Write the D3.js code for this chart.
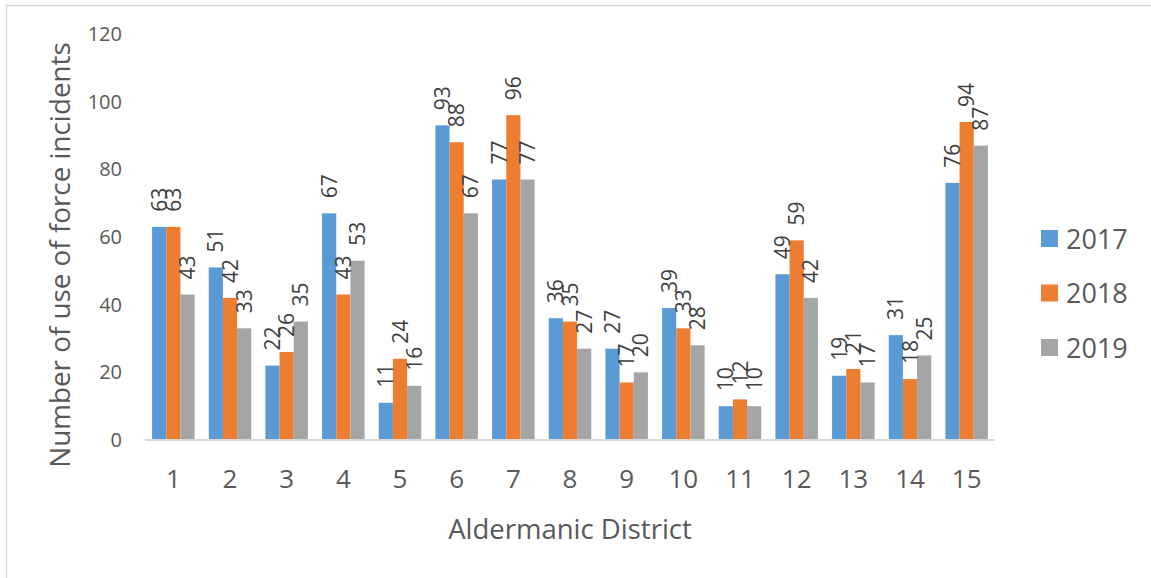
<!DOCTYPE html>
<html>
<head>
<meta charset="utf-8">
<script src="https://cdn.jsdelivr.net/npm/d3@7"></script>
<style>
  html, body { margin: 0; padding: 0; background: #fff; }
  svg { display: block; font-family: "Open Sans", sans-serif; }
</style>
</head>
<body>
<svg id="chart" width="1151" height="578"></svg>
<script>
// Use of force incidents per aldermanic district, by year
const districts = ["1","2","3","4","5","6","7","8","9","10","11","12","13","14","15"];
const years = ["2017", "2018", "2019"];
const values2017 = [63, 51, 22, 67, 11, 93, 77, 36, 27, 39, 10, 49, 19, 31, 76];
const values2018 = [63, 42, 26, 43, 24, 88, 96, 35, 17, 33, 12, 59, 21, 18, 94];
const values2019 = [43, 33, 35, 53, 16, 67, 77, 27, 20, 28, 10, 42, 17, 25, 87];
const yTicks = [0, 20, 40, 60, 80, 100, 120];
const colors = ["#5B9BD5", "#ED7D31", "#A5A5A5"];

const seriesValues = [values2017, values2018, values2019];
const rows = districts.map((d, i) => ({
  district: d,
  values: years.map((y, k) => ({ year: y, value: seriesValues[k][i] }))
}));

const svg = d3.select("#chart");
const textColor = "#595959";

// Chart frame
svg.append("rect")
  .attr("x", 6.5).attr("y", 5.5)
  .attr("width", 1150).attr("height", 580)
  .attr("fill", "none").attr("stroke", "#D9D9D9").attr("stroke-width", 1.5);

const plot = { left: 145, right: 995, top: 34, bottom: 440 };

const x = d3.scaleBand().domain(districts)
  .range([plot.left, plot.right]).paddingInner(0.25).paddingOuter(0.125);
const xInner = d3.scaleBand().domain(years).range([0, x.bandwidth()]);
const y = d3.scaleLinear().domain([0, 120]).range([plot.bottom, plot.top]);

// Bars
const groups = svg.append("g").selectAll("g").data(rows).join("g")
  .attr("transform", d => `translate(${x(d.district)},0)`);

groups.selectAll("rect").data(d => d.values).join("rect")
  .attr("x", d => xInner(d.year))
  .attr("y", d => y(d.value))
  .attr("width", xInner.bandwidth())
  .attr("height", d => y(0) - y(d.value))
  .attr("fill", (d, i) => colors[i]);

// Value labels, rotated above each bar
groups.selectAll("text").data(d => d.values).join("text")
  .attr("transform", d => `translate(${xInner(d.year) + xInner.bandwidth() / 2},${y(d.value) - 15}) rotate(-90)`)
  .attr("dy", "0.36em")
  .attr("text-anchor", "start")
  .attr("font-size", 21)
  .attr("fill", "#404040")
  .text(d => d.value);

// X axis
const xAxis = svg.append("g")
  .attr("transform", `translate(0,${plot.bottom})`)
  .call(d3.axisBottom(x).tickSize(0).tickPadding(30));
xAxis.select(".domain").attr("stroke", "#D9D9D9").attr("stroke-width", 2)
  .attr("d", `M${plot.left},0H${plot.right}`);
xAxis.selectAll("text").attr("font-size", 26).attr("fill", textColor)
  .attr("font-family", "Open Sans, sans-serif");

// Y axis
const yAxis = svg.append("g")
  .attr("transform", `translate(122,0)`)
  .call(d3.axisLeft(y).tickValues(yTicks).tickSize(0).tickPadding(0));
yAxis.select(".domain").remove();
yAxis.selectAll("text").attr("font-size", 20).attr("fill", textColor)
  .attr("font-family", "Open Sans, sans-serif");

// Axis titles
svg.append("text")
  .attr("transform", `translate(60,255) rotate(-90)`)
  .attr("text-anchor", "middle").attr("dy", "0.35em")
  .attr("font-size", 27.8).attr("fill", textColor)
  .text("Number of use of force incidents");

svg.append("text")
  .attr("x", 570).attr("y", 529)
  .attr("text-anchor", "middle").attr("dy", "0.35em")
  .attr("font-size", 27.5).attr("fill", textColor)
  .text("Aldermanic District");

// Legend
const legend = svg.append("g").selectAll("g").data(years).join("g")
  .attr("transform", (d, i) => `translate(1041,${239 + i * 54.5})`);
legend.append("rect")
  .attr("x", 0).attr("y", -9).attr("width", 17).attr("height", 17)
  .attr("fill", (d, i) => colors[i]);
legend.append("text")
  .attr("x", 25).attr("dy", "0.36em")
  .attr("font-size", 27).attr("fill", textColor)
  .text(d => d);
</script>
</body>
</html>
